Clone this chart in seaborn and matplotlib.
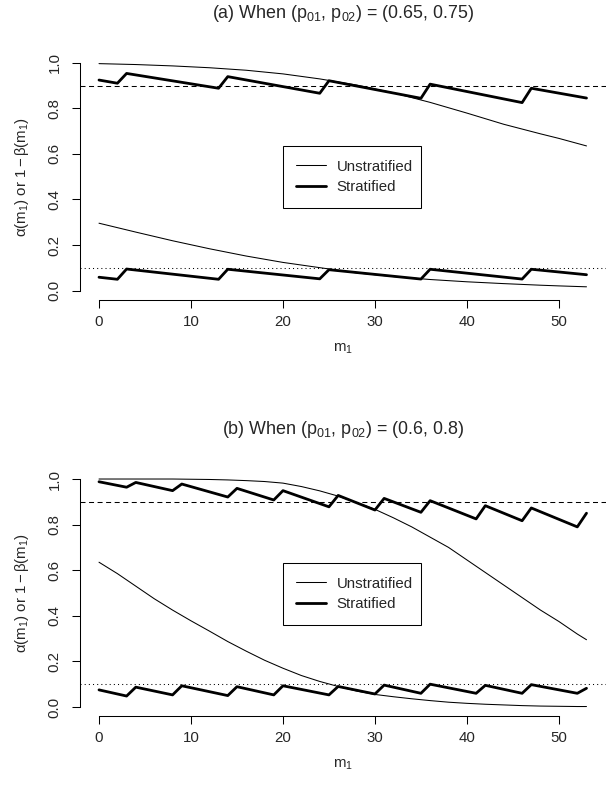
import numpy as np
import pandas as pd
import matplotlib
matplotlib.use("Agg")
import matplotlib.pyplot as plt
from matplotlib.lines import Line2D
import seaborn as sns

sns.set_style("white")
plt.rcParams['font.family'] = ['Liberation Sans', 'DejaVu Sans']
plt.rcParams['mathtext.fontset'] = 'custom'
plt.rcParams['mathtext.rm'] = 'Liberation Sans'
plt.rcParams['mathtext.it'] = 'Liberation Sans'
plt.rcParams['mathtext.bf'] = 'Liberation Sans:bold'

# ---- panel (a): (p01, p02) = (0.65, 0.75) ----
m_a_unstrat = [0, 4, 8, 12, 16, 20, 24, 28, 32, 36, 40, 44, 48, 50, 53]
a_unstrat_hi = [0.996, 0.992, 0.986, 0.978, 0.967, 0.951, 0.929, 0.902, 0.868,
                0.826, 0.779, 0.730, 0.688, 0.668, 0.635]
a_unstrat_lo = [0.296, 0.257, 0.219, 0.184, 0.152, 0.124, 0.101, 0.078, 0.062,
                0.049, 0.039, 0.031, 0.024, 0.021, 0.017]

m_a_strat = [0, 2, 3, 13, 14, 24, 25, 35, 36, 46, 47, 53]
a_strat_hi = [0.924, 0.910, 0.953, 0.888, 0.939, 0.866, 0.921, 0.844, 0.906, 0.825, 0.888, 0.845]
a_strat_lo = [0.059, 0.050, 0.095, 0.050, 0.094, 0.052, 0.092, 0.051, 0.094, 0.051, 0.094, 0.070]

# ---- panel (b): (p01, p02) = (0.6, 0.8) ----
m_b_unstrat = [0, 2, 4, 6, 8, 10, 12, 14, 16, 18, 20, 22, 24, 26, 28, 30, 32,
               34, 36, 38, 40, 42, 44, 46, 48, 50, 52, 53]
b_unstrat_hi = [1.000, 1.000, 1.000, 1.000, 1.000, 0.999, 0.998, 0.996, 0.993,
                0.989, 0.982, 0.967, 0.948, 0.925, 0.897, 0.867, 0.830, 0.790,
                0.745, 0.700, 0.645, 0.590, 0.535, 0.480, 0.425, 0.375, 0.320, 0.295]
b_unstrat_lo = [0.635, 0.585, 0.530, 0.475, 0.425, 0.378, 0.333, 0.287, 0.245,
                0.205, 0.170, 0.138, 0.112, 0.090, 0.070, 0.055, 0.045, 0.036,
                0.028, 0.021, 0.016, 0.012, 0.009, 0.006, 0.004, 0.003, 0.002, 0.002]

m_b_strat = [0, 3, 4, 8, 9, 14, 15, 19, 20, 25, 26, 30, 31, 35, 36, 41, 42, 46, 47, 52, 53]
b_strat_hi = [0.988, 0.964, 0.985, 0.949, 0.978, 0.921, 0.959, 0.908, 0.949, 0.878, 0.928,
              0.864, 0.915, 0.854, 0.905, 0.825, 0.883, 0.817, 0.873, 0.790, 0.850]
b_strat_lo = [0.075, 0.048, 0.087, 0.053, 0.093, 0.050, 0.089, 0.053, 0.093, 0.053, 0.090,
              0.057, 0.096, 0.060, 0.100, 0.060, 0.095, 0.060, 0.098, 0.060, 0.082]

titles = [r'(a) When (p$_{01}$, p$_{02}$) = (0.65, 0.75)',
          r'(b) When (p$_{01}$, p$_{02}$) = (0.6, 0.8)']
legend_labels = ['Unstratified', 'Stratified']

panels = [
    (m_a_unstrat, a_unstrat_hi, a_unstrat_lo, m_a_strat, a_strat_hi, a_strat_lo),
    (m_b_unstrat, b_unstrat_hi, b_unstrat_lo, m_b_strat, b_strat_hi, b_strat_lo),
]

W, H = 612, 798
fig = plt.figure(figsize=(W / 100, H / 100), dpi=100)

thin, thick = 0.75, 2.0
fs = 10.8

left_px, right_px = 79.5, 606
bottoms_px = [299.8, 716.1]
height_px = 246.2
legend_top_px = [154, 571]
xlo, xhi = -2.12, 55.12

for i, (mu, uh, ul, ms, sh, sl) in enumerate(panels):
    ax = fig.add_axes([left_px / W, 1 - bottoms_px[i] / H,
                       (right_px - left_px) / W, height_px / H])
    df_u = pd.DataFrame({'m1': mu, 'hi': uh, 'lo': ul})
    df_s = pd.DataFrame({'m1': ms, 'hi': sh, 'lo': sl})
    for col in ['hi', 'lo']:
        sns.lineplot(data=df_u, x='m1', y=col, ax=ax, color='black', lw=thin,
                     estimator=None, sort=False)
        sns.lineplot(data=df_s, x='m1', y=col, ax=ax, color='black', lw=thick,
                     estimator=None, sort=False)
    ax.axhline(0.9, color='black', lw=0.75, linestyle=(0, (4.8, 3.4)))
    ax.axhline(0.1, color='black', lw=0.75, linestyle=(0, (1, 3)))

    ax.set_xlim(xlo, xhi)
    ax.set_ylim(-0.04, 1.04)
    ax.set_xticks(range(0, 51, 10))
    ax.set_yticks(np.arange(0, 1.01, 0.2))
    ax.set_yticklabels([f'{v:.1f}' for v in np.arange(0, 1.01, 0.2)])
    for s in ['top', 'right']:
        ax.spines[s].set_visible(False)
    for s in ['left', 'bottom']:
        ax.spines[s].set_color('black')
        ax.spines[s].set_linewidth(0.75)
    ax.spines['bottom'].set_bounds(0, 50)
    ax.spines['left'].set_bounds(0, 1)
    ax.tick_params(axis='both', direction='out', length=6, width=0.75,
                   color='black', labelsize=fs, bottom=True, left=True)
    ax.tick_params(axis='x', pad=5)
    ax.tick_params(axis='y', pad=7, labelrotation=90)
    for lab in ax.get_yticklabels():
        lab.set_va('center')
    ax.set_xlabel(r'm$_1$', fontsize=fs, labelpad=9)
    ax.set_ylabel(r'$\alpha(\mathrm{m}_1)$ or $1-\beta(\mathrm{m}_1)$', fontsize=fs, labelpad=12)

    # title centred on the plot region
    cx = (left_px + 0.5 * (right_px - left_px)) / W
    fig.text(cx, 1 - (bottoms_px[i] - height_px - 35.5) / H, titles[i],
             ha='center', va='baseline', fontsize=12.9)

    handles = [Line2D([], [], color='black', lw=thin), Line2D([], [], color='black', lw=thick)]
    leg = ax.legend(handles, legend_labels, loc='upper left',
                    bbox_to_anchor=(282.7 / W, 1 - legend_top_px[i] / H, 138 / W, 0.01),
                    bbox_transform=fig.transFigure, mode='expand', borderaxespad=0,
                    fancybox=False, framealpha=1, edgecolor='black', fontsize=fs,
                    handlelength=2.0, handletextpad=0.7, borderpad=0.9, labelspacing=0.45)
    leg.get_frame().set_linewidth(0.75)

fig.savefig('out.png', dpi=100)
